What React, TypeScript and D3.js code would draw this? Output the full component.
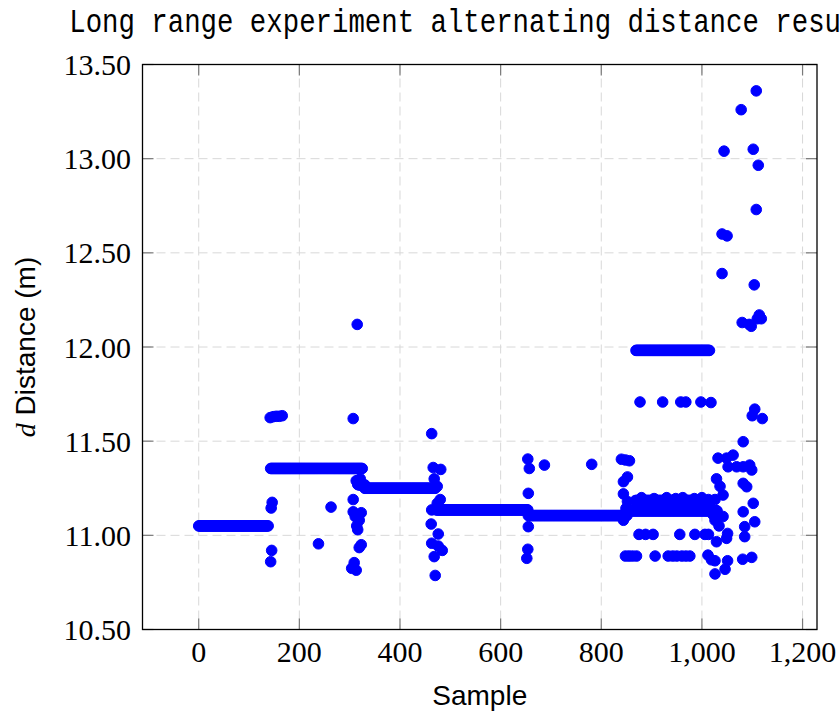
import React from "react";
import * as d3 from "d3";

// ---- data ----
const titleText = "Long range experiment alternating distance results";
const xTicks = [0, 200, 400, 600, 800, 1000, 1200];
const yTicks = [10.5, 11.0, 11.5, 12.0, 12.5, 13.0, 13.5];

// constant-level runs of samples (start sample, end sample, distance)
const runStart = [0, 143, 318, 330, 472, 655, 858, 868, 875, 869];
const runEnd = [138, 325, 330, 470, 655, 852, 1030, 1005, 1015, 1016];
const runLevel = [11.05, 11.355, 11.268, 11.25, 11.135, 11.105, 11.13, 11.185, 11.16, 11.982];

// isolated samples
const sampleIdx = [
  143, 145, 144, 146, 142, 148, 154, 160, 166,
  238, 263,
  307, 315, 307, 307, 323, 311, 319, 316, 314, 323, 319, 309, 304, 313, 313, 316, 321,
  463, 466, 481, 468, 474, 480, 474, 463, 462, 476, 463, 476, 484, 468, 470,
  654, 657, 655, 655, 654, 652, 687, 781,
  840, 848, 856, 852, 844, 844, 849, 844, 852,
  877, 922, 958, 968, 998, 1018,
  875, 888, 903, 956, 986, 1006, 1013,
  848, 855, 862, 870, 907, 933, 942, 950, 960, 968, 976, 1012,
  1026, 1046, 1051, 1026, 1019, 1029, 1049, 1051, 1034, 1042, 1026, 1029, 1013, 1026, 1042, 1036, 1029,
  1032, 1049, 1062, 1052, 1069, 1082, 1095, 1099, 1082, 1082, 1089, 1102, 1082, 1105, 1085, 1085, 1081, 1099,
  1040, 1050, 1044, 1040, 1078, 1102, 1112, 1108, 1104, 1108, 1080, 1094, 1098, 1110, 1114, 1118, 1105, 1100, 1120,
  880, 905, 930, 948, 962, 985, 1000, 1022,
];
const distance = [
  10.86, 10.92, 11.145, 11.175, 11.625, 11.63, 11.632, 11.632, 11.635,
  10.955, 11.15,
  11.62, 12.12, 11.19, 11.125, 11.12, 11.10, 11.08, 11.03, 11.05, 10.95, 10.935, 10.855, 10.825, 10.815, 11.29, 11.27, 11.30,
  11.54, 11.36, 11.35, 11.30, 11.26, 11.19, 11.17, 11.135, 11.06, 11.007, 10.958, 10.943, 10.92, 10.887, 10.787,
  11.405, 11.355, 11.223, 11.046, 10.926, 10.878, 11.373, 11.377,
  11.404, 11.40, 11.396, 11.31, 11.285, 11.22, 11.143, 11.08, 11.18,
  11.708, 11.708, 11.708, 11.708, 11.708, 11.705,
  11.005, 11.005, 11.005, 11.005, 11.005, 11.005, 11.005,
  10.89, 10.89, 10.89, 10.89, 10.89, 10.89, 10.89, 10.89, 10.89, 10.89, 10.89, 10.895,
  10.795, 10.82, 10.865, 10.865, 10.87, 10.966, 10.984, 11.01, 11.05, 11.10, 11.08, 11.13, 11.19, 11.19, 11.214, 11.26, 11.30,
  11.41, 11.41, 11.426, 11.364, 11.364, 11.364, 11.373, 11.347, 11.497, 11.276, 11.258, 11.17, 11.125, 11.072, 11.046, 10.993, 10.873, 10.883,
  12.60, 12.59, 13.04, 12.39, 13.26, 13.05, 12.965, 12.73, 12.33, 13.36, 12.13, 12.12, 12.11, 12.15, 12.17, 12.15, 11.67, 11.635, 11.62,
  11.2, 11.195, 11.2, 11.195, 11.2, 11.195, 11.2, 11.11,
];

const W = 840;
const H = 715;
const left = 142.5, right = 817, top = 64.5, bottom = 629.5;

export default function App() {
  const x = d3.scaleLinear().domain([-111.7, 1228.7]).range([left, right]);
  const y = d3.scaleLinear().domain([10.5, 13.5]).range([bottom, top]);
  const fmt = d3.format(",");
  const fmtY = d3.format(".2f");

  const pts: [number, number][] = [];
  runStart.forEach((s, i) => {
    for (let k = s; k <= runEnd[i]; k += 2) pts.push([k, runLevel[i]]);
  });
  sampleIdx.forEach((s, i) => pts.push([s, distance[i]]));

  const tickLen = 11;
  const serif = "'Liberation Serif', 'Times New Roman', serif";
  const sans = "'Liberation Sans', Arial, sans-serif";

  return (
    <svg width={W} height={H} style={{ position: "absolute", left: 0, top: 0, background: "#fff" }}>
      <rect width={W} height={H} fill="#fff" />
      <text
        x={(left + right) / 2}
        y={32}
        textAnchor="middle"
        fontFamily="'Liberation Mono', 'Courier New', monospace"
        fontSize={33}
        textLength={821}
        lengthAdjust="spacingAndGlyphs"
        fill="#000"
      >
        {titleText}
      </text>
      {/* grid */}
      <g stroke="#d8d8d8" strokeWidth={1} strokeDasharray="9 5">
        {xTicks.map((t) => (
          <line key={"gx" + t} x1={x(t)} x2={x(t)} y1={top} y2={bottom} />
        ))}
        {yTicks.map((t) => (
          <line key={"gy" + t} x1={left} x2={right} y1={y(t)} y2={y(t)} />
        ))}
      </g>
      {/* ticks */}
      <g stroke="#7a7a7a" strokeWidth={1.2}>
        {xTicks.map((t) => (
          <g key={"tx" + t}>
            <line x1={x(t)} x2={x(t)} y1={bottom} y2={bottom - tickLen} />
            <line x1={x(t)} x2={x(t)} y1={top} y2={top + tickLen} />
          </g>
        ))}
        {yTicks.map((t) => (
          <g key={"ty" + t}>
            <line x1={left} x2={left + tickLen} y1={y(t)} y2={y(t)} />
            <line x1={right} x2={right - tickLen} y1={y(t)} y2={y(t)} />
          </g>
        ))}
      </g>
      {/* markers */}
      <g fill="#0000ff" stroke="#0000ff" strokeWidth={1}>
        {pts.map((p, i) => (
          <circle key={i} cx={x(p[0])} cy={y(p[1])} r={5.3} />
        ))}
      </g>
      {/* frame */}
      <rect x={left} y={top} width={right - left} height={bottom - top} fill="none" stroke="#000" strokeWidth={1.3} />
      {/* tick labels */}
      <g fontFamily={serif} fontSize={30} fill="#000">
        {xTicks.map((t) => (
          <text key={"lx" + t} x={x(t)} y={662} textAnchor="middle">
            {fmt(t)}
          </text>
        ))}
        {yTicks.map((t) => (
          <text key={"ly" + t} x={131} y={y(t) + 10.5} textAnchor="end">
            {fmtY(t)}
          </text>
        ))}
      </g>
      <text x={(left + right) / 2} y={705} textAnchor="middle" fontFamily={sans} fontSize={28} fill="#000">
        Sample
      </text>
      <text
        transform={`translate(35, ${(top + bottom) / 2}) rotate(-90)`}
        textAnchor="middle"
        fontSize={28}
        fill="#000"
      >
        <tspan fontFamily={serif} fontStyle="italic">d</tspan>
        <tspan fontFamily={sans}> Distance (m)</tspan>
      </text>
    </svg>
  );
}
